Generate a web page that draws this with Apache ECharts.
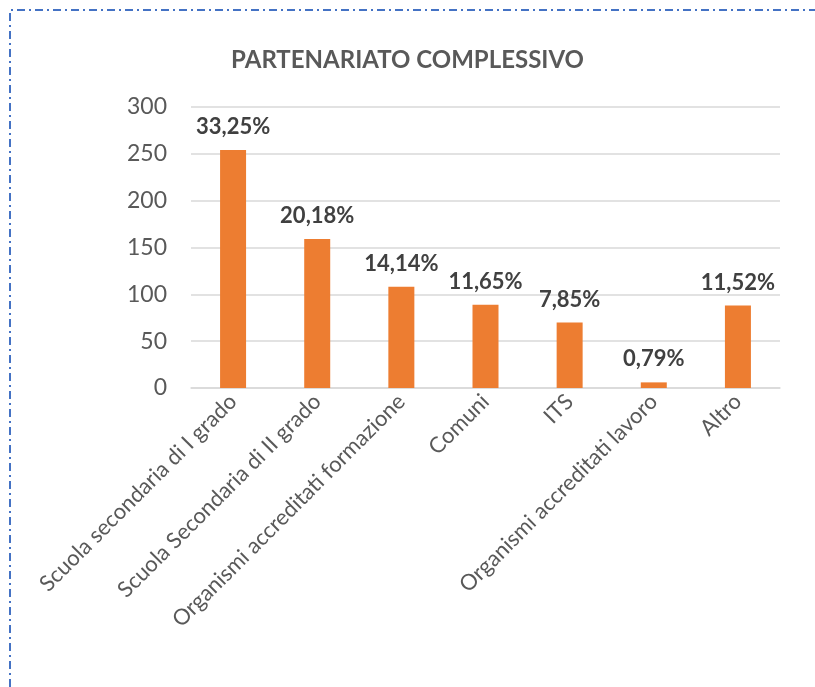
<!DOCTYPE html>
<html>
<head>
<meta charset="utf-8">
<script src="https://cdn.jsdelivr.net/npm/echarts@6/dist/echarts.min.js"></script>
<style>
  html, body { margin: 0; padding: 0; background: #fff; }
  #main { width: 815px; height: 687px; }
</style>
</head>
<body>
<div id="main"></div>
<script>
// dati
var categorie = ['Scuola secondaria di I grado', 'Scuola Secondaria di II grado', 'Organismi accreditati formazione', 'Comuni', 'ITS', 'Organismi accreditati lavoro', 'Altro'];
var valori = [254, 159, 108, 89, 70, 6, 88];
var percentuali = ['33,25%', '20,18%', '14,14%', '11,65%', '7,85%', '0,79%', '11,52%'];

var myChart = echarts.init(document.getElementById('main'));

var option = {
  backgroundColor: '#fff',
  textStyle: { fontFamily: 'Lato' },
  title: {
    text: 'PARTENARIATO COMPLESSIVO',
    left: 'center',
    top: 43,
    textStyle: { fontFamily: 'Lato', fontSize: 24, fontWeight: 'bold', color: '#595959' }
  },
  // bordo tratteggiato blu (solo alto e sinistra visibili)
  graphic: [
    {
      type: 'polyline',
      shape: { points: [[10, 687], [10, 10], [815, 10]] },
      style: { stroke: '#4472C4', lineWidth: 2, fill: null, lineDash: [8, 4, 2, 4] }
    }
  ],
  grid: { left: 191, right: 35, top: 107, bottom: 299 },
  xAxis: {
    type: 'category',
    data: categorie,
    axisTick: { show: false },
    axisLine: { lineStyle: { color: '#D9D9D9', width: 1.5 } },
    axisLabel: { rotate: 45, interval: 0, margin: 10, fontSize: 22, color: '#595959', fontFamily: 'Lato' }
  },
  yAxis: {
    type: 'value',
    min: 0,
    max: 300,
    interval: 50,
    axisLine: { show: false },
    axisTick: { show: false },
    splitLine: { lineStyle: { color: '#D9D9D9', width: 1.5 } },
    axisLabel: { margin: 24, fontSize: 23, color: '#595959', fontFamily: 'Lato' }
  },
  series: [
    {
      type: 'bar',
      data: valori,
      barWidth: 26,
      itemStyle: { color: '#ED7D31' },
      label: {
        show: true,
        position: 'top',
        distance: 12,
        fontSize: 22,
        fontWeight: 'bold',
        color: '#404040',
        fontFamily: 'Lato',
        formatter: function (p) { return percentuali[p.dataIndex]; }
      }
    }
  ]
};

myChart.setOption(option);
</script>
</body>
</html>
